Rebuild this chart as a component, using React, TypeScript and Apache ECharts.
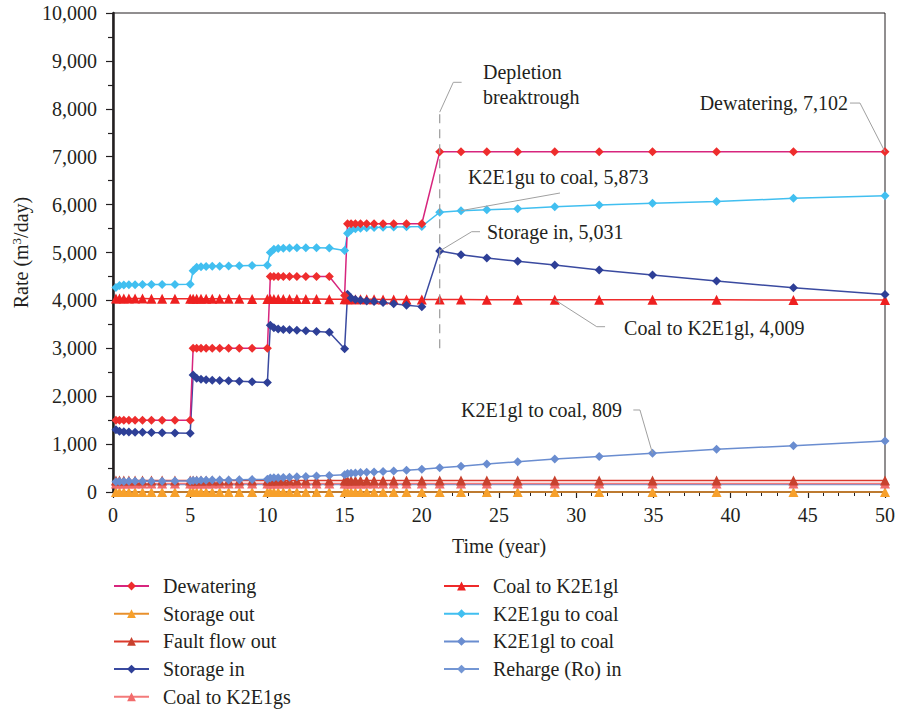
import React, { useEffect, useRef } from 'react';
import * as echarts from 'echarts';

// Simulation times (years): five stress periods, 10 time steps each
const years = [
  0.19, 0.42, 0.7, 1.03, 1.43, 1.91, 2.49, 3.18, 4.01, 5.0,
  5.19, 5.42, 5.7, 6.03, 6.43, 6.91, 7.49, 8.18, 9.01, 10.0,
  10.19, 10.42, 10.7, 11.03, 11.43, 11.91, 12.49, 13.18, 14.01, 15.0,
  15.19, 15.42, 15.7, 16.03, 16.43, 16.91, 17.49, 18.18, 19.01, 20.0,
  21.16, 22.54, 24.21, 26.21, 28.61, 31.49, 34.94, 39.09, 44.07, 50.0,
];

const dewatering = [
  1500, 1500, 1500, 1500, 1500, 1500, 1500, 1500, 1500, 1500,
  3000, 3000, 3000, 3000, 3000, 3000, 3000, 3000, 3000, 3000,
  4500, 4500, 4500, 4500, 4500, 4500, 4500, 4500, 4500, 4100,
  5600, 5600, 5600, 5600, 5600, 5600, 5600, 5600, 5600, 5600,
  7102, 7102, 7102, 7102, 7102, 7102, 7102, 7102, 7102, 7102,
];

const storageOut = [
  0, 0, 0, 0, 0, 0, 0, 0, 0, 0,
  0, 0, 0, 0, 0, 0, 0, 0, 0, 0,
  0, 0, 0, 0, 0, 0, 0, 0, 0, 0,
  0, 0, 0, 0, 0, 0, 0, 0, 0, 0,
  0, 0, 0, 0, 0, 0, 0, 0, 0, 0,
];

const faultFlowOut = [
  240, 240, 240, 240, 240, 240, 240, 240, 240, 240,
  240, 240, 240, 240, 240, 240, 240, 240, 240, 240,
  240, 240, 240, 240, 240, 240, 240, 240, 240, 240,
  240, 240, 240, 240, 240, 240, 240, 240, 240, 240,
  240, 240, 240, 240, 240, 240, 240, 240, 240, 240,
];

const storageIn = [
  1300, 1270, 1260, 1255, 1250, 1245, 1240, 1235, 1230, 1225,
  2440, 2375, 2355, 2345, 2335, 2330, 2320, 2310, 2300, 2285,
  3480, 3430, 3405, 3395, 3385, 3375, 3365, 3350, 3335, 2990,
  4130, 4050, 4020, 4005, 3990, 3975, 3955, 3930, 3900, 3870,
  5031, 4955, 4885, 4815, 4740, 4635, 4530, 4405, 4265, 4125,
];

const coalToK2E1gs = [
  180, 180, 180, 180, 180, 180, 180, 180, 180, 180,
  180, 180, 180, 180, 180, 180, 180, 180, 180, 180,
  180, 180, 180, 180, 180, 180, 180, 180, 180, 180,
  180, 180, 180, 180, 180, 180, 180, 180, 180, 180,
  180, 180, 180, 180, 180, 180, 180, 180, 180, 180,
];

const coalToK2E1gl = [
  4040, 4040, 4039, 4039, 4038, 4038, 4037, 4037, 4036, 4036,
  4035, 4035, 4034, 4034, 4033, 4033, 4032, 4032, 4031, 4031,
  4030, 4030, 4029, 4029, 4028, 4028, 4027, 4027, 4026, 4026,
  4025, 4024, 4024, 4023, 4022, 4022, 4021, 4020, 4020, 4019,
  4018, 4017, 4016, 4015, 4014, 4013, 4012, 4011, 4010, 4009,
];

const k2e1guToCoal = [
  4270, 4310, 4320, 4325, 4328, 4330, 4330, 4332, 4334, 4336,
  4620, 4690, 4705, 4710, 4712, 4715, 4718, 4722, 4728, 4735,
  5000, 5070, 5085, 5090, 5095, 5100, 5100, 5098, 5092, 5040,
  5400, 5470, 5495, 5505, 5515, 5520, 5525, 5530, 5535, 5545,
  5840, 5873, 5890, 5915, 5955, 5990, 6030, 6065, 6130, 6185,
];

const k2e1glToCoal = [
  215, 220, 220, 222, 222, 224, 225, 226, 228, 230,
  240, 242, 244, 246, 248, 250, 253, 256, 260, 265,
  290, 295, 300, 305, 310, 318, 325, 335, 345, 360,
  385, 392, 398, 405, 412, 420, 430, 440, 455, 475,
  505, 540, 585, 633, 689, 740, 809, 890, 967, 1065,
];

const rechargeIn = [
  155, 155, 155, 155, 155, 155, 155, 155, 155, 155,
  155, 155, 155, 155, 155, 155, 155, 155, 155, 155,
  155, 155, 155, 155, 155, 155, 155, 155, 155, 155,
  155, 155, 155, 155, 155, 155, 155, 155, 155, 155,
  155, 155, 155, 155, 155, 155, 155, 155, 155, 155,
];

const legendLeft = ['Dewatering', 'Storage out', 'Fault flow out', 'Storage in', 'Coal to K2E1gs'];
const legendRight = ['Coal to K2E1gl', 'K2E1gu to coal', 'K2E1gl to coal', 'Reharge (Ro) in'];

const FONT = '"Liberation Serif", "DejaVu Serif", serif';
const TEXT = '#231f20';

type SeriesDef = {
  name: string;
  values: number[];
  symbol: string;
  marker: string;
  line: string;
};

const seriesDefs: SeriesDef[] = [
  { name: 'Storage out', values: storageOut, symbol: 'triangle', marker: '#f7a02b', line: '#e8902c' },
  { name: 'Reharge (Ro) in', values: rechargeIn, symbol: 'diamond', marker: '#7396d4', line: '#7396d4' },
  { name: 'Coal to K2E1gs', values: coalToK2E1gs, symbol: 'triangle', marker: '#f26b6b', line: '#f37a7a' },
  { name: 'Fault flow out', values: faultFlowOut, symbol: 'triangle', marker: '#c8412e', line: '#dc3a2c' },
  { name: 'K2E1gl to coal', values: k2e1glToCoal, symbol: 'diamond', marker: '#6a8dd0', line: '#6a8dd0' },
  { name: 'Coal to K2E1gl', values: coalToK2E1gl, symbol: 'triangle', marker: '#ee2020', line: '#ee2a2a' },
  { name: 'K2E1gu to coal', values: k2e1guToCoal, symbol: 'diamond', marker: '#41bff0', line: '#41bff0' },
  { name: 'Storage in', values: storageIn, symbol: 'diamond', marker: '#2e3f97', line: '#3a4aa0' },
  { name: 'Dewatering', values: dewatering, symbol: 'diamond', marker: '#ee2d2d', line: '#d7257d' },
];

type Annotation = {
  text: string;
  at: [number, number];
  align: 'left' | 'right';
  leader: [number, number][];
};

const annotations: Annotation[] = [
  { text: 'Dewatering, 7,102', at: [47.6, 8120], align: 'right', leader: [[47.73, 8120], [48.38, 8120], [50, 7102]] },
  { text: 'K2E1gu to coal, 5,873', at: [22.99, 6576], align: 'left', leader: [[22.54, 5873], [28.95, 6242]] },
  { text: 'Storage in, 5,031', at: [24.22, 5430], align: 'left', leader: [[21.16, 5031], [23.23, 5434], [23.77, 5434]] },
  { text: 'Coal to K2E1gl, 4,009', at: [33.1, 3424], align: 'left', leader: [[28.61, 4014], [31.33, 3451], [31.87, 3451]] },
  { text: 'K2E1gl to coal, 809', at: [32.97, 1712], align: 'right', leader: [[33.7, 1712], [34.13, 1712], [34.94, 809]] },
  { text: 'Depletion\nbreaktrough', at: [23.96, 8507], align: 'left', leader: [[21.16, 7930], [22.04, 8553], [22.58, 8553]] },
];
const depletionLine: [number, number][] = [[21.16, 3000], [21.16, 7930]];

export default function App() {
  const ref = useRef<HTMLDivElement>(null);
  useEffect(() => {
    const chart = echarts.init(ref.current!, null, { renderer: 'svg' });
    const legendCommon = {
      orient: 'vertical',
      top: 576,
      padding: 0,
      height: 136,
      itemWidth: 35,
      itemHeight: 11,
      itemGap: 7.7,
      textStyle: { fontSize: 20, fontFamily: FONT, color: TEXT, lineHeight: 20, padding: [0, 0, 0, 9] },
    };
    const option: any = {
      animation: false,
      backgroundColor: '#ffffff',
      textStyle: { fontFamily: FONT },
      grid: {
        left: 113, right: 13, top: 13, bottom: 221,
        show: true, borderColor: TEXT, borderWidth: 1, backgroundColor: 'transparent',
      },
      legend: [
        { ...legendCommon, left: 113, data: legendLeft },
        { ...legendCommon, left: 443, data: legendRight },
      ],
      xAxis: {
        type: 'value', min: 0, max: 50, interval: 5,
        name: 'Time (year)', nameLocation: 'middle', nameGap: 44,
        nameTextStyle: { fontSize: 20, fontFamily: FONT, color: TEXT },
        axisLine: { show: true, lineStyle: { color: TEXT, width: 1.5 } },
        axisTick: { show: true, length: 6, lineStyle: { color: TEXT, width: 1.2 } },
        minorTick: { show: true, splitNumber: 5, length: 4, lineStyle: { color: TEXT, width: 1 } },
        axisLabel: { fontSize: 20, fontFamily: FONT, color: TEXT, margin: 13 },
        splitLine: { show: false },
      },
      yAxis: {
        type: 'value', min: 0, max: 10000, interval: 1000,
        name: 'Rate (m{sup|3}/day)', nameLocation: 'middle', nameGap: 80,
        nameTextStyle: {
          fontSize: 20, fontFamily: FONT, color: TEXT,
          rich: { sup: { fontSize: 13, fontFamily: FONT, color: TEXT, padding: [0, 0, 9, 0] } },
        },
        axisLine: { show: true, lineStyle: { color: TEXT, width: 2.5 } },
        axisTick: { show: true, length: 7, lineStyle: { color: TEXT, width: 1.2 } },
        minorTick: { show: true, splitNumber: 2, length: 5, lineStyle: { color: TEXT, width: 1.2 } },
        axisLabel: {
          fontSize: 20, fontFamily: FONT, color: TEXT, margin: 16,
          formatter: (v: number) => v.toLocaleString('en-US'),
        },
        splitLine: { show: false },
      },
      series: seriesDefs.map((d) => ({
        name: d.name,
        type: 'line',
        data: years.map((t, i) => [t, d.values[i]]),
        symbol: d.symbol,
        symbolSize: d.symbol === 'triangle' ? 10 : 9,
        showAllSymbol: true,
        clip: false,
        itemStyle: { color: d.marker },
        lineStyle: { color: d.line, width: 1.5 },
        emphasis: { disabled: true },
      })),
    };
    chart.setOption(option);

    const px = (p: [number, number]) => chart.convertToPixel({ gridIndex: 0 } as any, p) as number[];
    const graphics: any[] = [];
    const dl = depletionLine.map(px);
    graphics.push({
      type: 'line', silent: true, z: 50,
      shape: { x1: dl[0][0], y1: dl[0][1], x2: dl[1][0], y2: dl[1][1] },
      style: { stroke: '#9a9a9a', lineWidth: 1.2, lineDash: [9, 6] },
    });
    annotations.forEach((a) => {
      graphics.push({
        type: 'polyline', silent: true, z: 50,
        shape: { points: a.leader.map(px) },
        style: { stroke: '#a0a0a0', lineWidth: 1, fill: 'none' },
      });
      const p = px(a.at);
      graphics.push({
        type: 'text', silent: true, z: 50,
        x: p[0], y: p[1],
        style: {
          text: a.text, fontSize: 20, fontFamily: FONT, fill: TEXT,
          textAlign: a.align, align: a.align,
          textVerticalAlign: 'middle', verticalAlign: 'middle',
          lineHeight: 25,
        },
      });
    });
    chart.setOption({ graphic: graphics });
    return () => chart.dispose();
  }, []);
  return <div ref={ref} style={{ position: 'fixed', left: 0, top: 0, width: 898, height: 713 }} />;
}
